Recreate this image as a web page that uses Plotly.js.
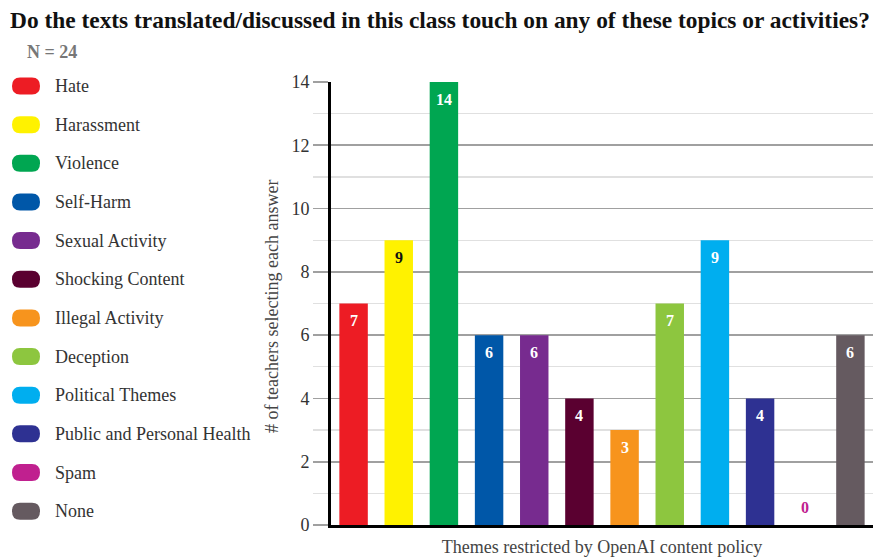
<!DOCTYPE html>
<html>
<head>
<meta charset="utf-8">
<script src="https://cdn.plot.ly/plotly-3.0.1.min.js"></script>
<style>html,body{margin:0;padding:0;background:#fff;}#chart{width:875px;height:557px;}</style>
</head>
<body>
<div id="chart"></div>
<script>
const categories = ["Hate","Harassment","Violence","Self-Harm","Sexual Activity","Shocking Content","Illegal Activity","Deception","Political Themes","Public and Personal Health","Spam","None"];
const counts = [7, 9, 14, 6, 6, 4, 3, 7, 9, 4, 0, 6];
const colors = ["#ED1C24","#FFF200","#00A651","#0057A8","#772B8F","#5A0030","#F7941D","#8DC63F","#00AEEF","#2E3192","#C0208F","#655A60"];
const labelColors = ["#ffffff","#111111","#ffffff","#ffffff","#ffffff","#ffffff","#ffffff","#ffffff","#ffffff","#ffffff","#C0208F","#ffffff"];
const yTicks = [0, 2, 4, 6, 8, 10, 12, 14];

const W = 875, H = 557;
const M = {l: 331, r: 2, t: 82, b: 32};
const pw = W - M.l - M.r, ph = H - M.t - M.b;
const FONT = "Liberation Serif, Times New Roman, serif";

const trace = {
  type: "bar",
  x: categories,
  y: counts,
  marker: {color: colors, line: {width: 0}},
  hoverinfo: "x+y",
  showlegend: false
};

const shapes = [];
const annotations = [];

// value labels, anchored on the data through the axes
categories.forEach((c, i) => {
  annotations.push({
    xref: "x", yref: "y", x: c, y: counts[i],
    yshift: counts[i] > 0 ? -17 : 18,
    xanchor: "center", yanchor: "middle", showarrow: false,
    text: String(counts[i]),
    font: {family: FONT, size: 16, color: labelColors[i], weight: "bold"}
  });
});

// legend (layout decoration)
const legX = 26, legTextX = 53, legY0 = 86, legStep = 38.65;
const px2x = p => (p - M.l) / pw;
const py2y = p => (H - M.b - p) / ph;
categories.forEach((c, i) => {
  const cy = legY0 + i * legStep;
  shapes.push({
    type: "path", xref: "paper", yref: "paper",
    xsizemode: "pixel", ysizemode: "pixel",
    xanchor: px2x(legX), yanchor: py2y(cy),
    path: "M-6,-8.5 L6,-8.5 Q14,-8.5 14,0 Q14,8.5 6,8.5 L-6,8.5 Q-14,8.5 -14,0 Q-14,-8.5 -6,-8.5 Z",
    fillcolor: colors[i], line: {width: 0}, layer: "above"
  });
  annotations.push({
    xref: "paper", yref: "paper", x: px2x(legTextX), y: py2y(cy),
    xanchor: "left", yanchor: "middle", showarrow: false,
    text: c, font: {family: FONT, size: 18, color: "#333"}
  });
});
annotations.push({
  xref: "paper", yref: "paper", x: px2x(25), y: py2y(52),
  xanchor: "left", yanchor: "middle", showarrow: false,
  text: "N = 24", font: {family: FONT, size: 18, color: "#777", weight: "bold"}
});
// y-axis title
annotations.push({
  xref: "paper", yref: "paper", x: px2x(272), y: py2y(307),
  xanchor: "center", yanchor: "middle", showarrow: false, textangle: -90,
  text: "# of teachers selecting each answer", font: {family: FONT, size: 18, color: "#444"}
});

const layout = {
  width: W, height: H,
  margin: M,
  paper_bgcolor: "#fff", plot_bgcolor: "#fff",
  font: {family: FONT, color: "#333"},
  title: {
    text: "Do the texts translated/discussed in this class touch on any of these topics or activities?",
    font: {family: FONT, size: 23.4, color: "#111", weight: "bold"},
    xref: "container", yref: "container", x: 10 / W, xanchor: "left",
    y: 1 - 20 / H, yanchor: "middle"
  },
  bargap: 0.37,
  xaxis: {
    type: "category", range: [-0.5, categories.length - 0.5],
    showticklabels: false, ticks: "", showgrid: false, zeroline: false,
    showline: true, linecolor: "#000", linewidth: 3,
    automargin: false,
    title: {text: "Themes restricted by OpenAI content policy", font: {family: FONT, size: 18, color: "#444"}, standoff: 20}
  },
  yaxis: {
    range: [0, 14], tickvals: yTicks, ticktext: yTicks.map(String),
    showgrid: true, gridcolor: "#a0a0a0", gridwidth: 1.6,
    zeroline: false, showline: true, linecolor: "#000", linewidth: 3,
    ticks: "outside", ticklen: 15, tickcolor: "#a0a0a0", tickwidth: 1.6,
    tickfont: {family: FONT, size: 18, color: "#333"},
    minor: {dtick: 1, showgrid: true, gridcolor: "#e0e0e0", gridwidth: 1.2, ticks: "outside", ticklen: 15, tickcolor: "#e0e0e0", tickwidth: 1.2},
    automargin: false
  },
  shapes: shapes,
  annotations: annotations
};

Plotly.newPlot("chart", [trace], layout, {displayModeBar: false, staticPlot: true});
</script>
</body>
</html>
